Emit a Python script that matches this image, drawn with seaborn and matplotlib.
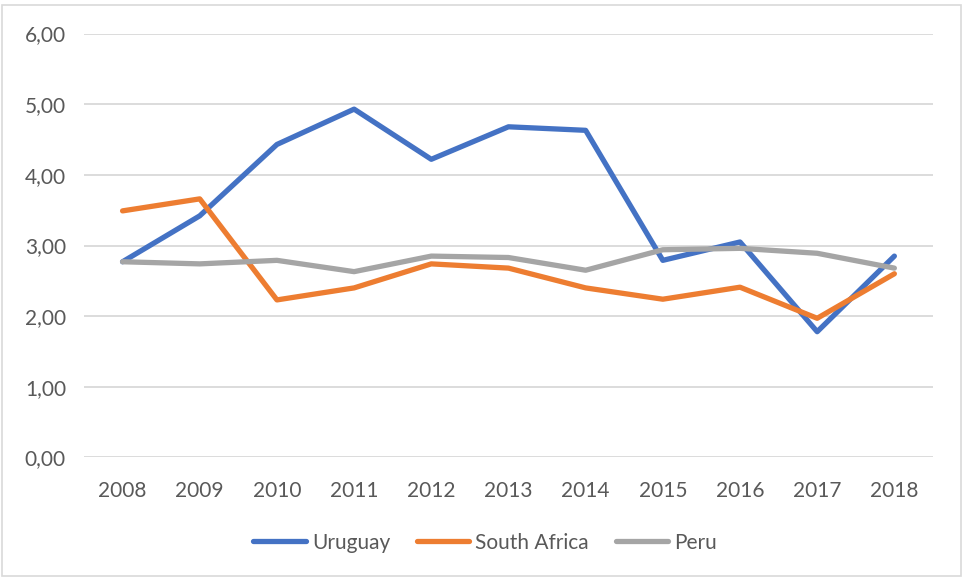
import pandas as pd
import seaborn as sns
import matplotlib
matplotlib.use('Agg')
import matplotlib.pyplot as plt
from matplotlib.patches import Rectangle
from matplotlib.ticker import FuncFormatter

# --- Data ---
years = [2008, 2009, 2010, 2011, 2012, 2013, 2014, 2015, 2016, 2017, 2018]
uruguay = [2.77, 3.42, 4.43, 4.93, 4.22, 4.68, 4.63, 2.79, 3.05, 1.78, 2.85]
south_africa = [3.49, 3.66, 2.23, 2.40, 2.74, 2.68, 2.40, 2.24, 2.41, 1.97, 2.60]
peru = [2.77, 2.74, 2.79, 2.63, 2.85, 2.83, 2.65, 2.94, 2.96, 2.89, 2.68]

series_names = ['Uruguay', 'South Africa', 'Peru']
colors = ['#4472C4', '#ED7D31', '#A5A5A5']

df = pd.DataFrame({
    'year': years * 3,
    'value': uruguay + south_africa + peru,
    'country': [n for n in series_names for _ in years],
})

sns.set_style('white')
plt.rcParams['font.family'] = ['Lato', 'DejaVu Sans']
TEXT = '#595959'
FS = 15

fig = plt.figure(figsize=(9.63, 5.78), dpi=100)
ax = fig.add_axes([0.0872, 0.2085, 0.8816, 0.7335])

sns.lineplot(data=df, x='year', y='value', hue='country', hue_order=series_names,
             palette=colors, linewidth=3.8, ax=ax, legend=False)

ax.set_xlim(2007.5, 2018.5)
ax.set_ylim(0, 6)
ax.set_xticks(years)
ax.set_yticks(range(0, 7))
ax.yaxis.set_major_formatter(FuncFormatter(lambda v, p: f'{v:.2f}'.replace('.', ',')))
ax.tick_params(axis='both', colors=TEXT, labelsize=FS, length=0)
ax.tick_params(axis='x', pad=17)
ax.tick_params(axis='y', pad=13)
ax.grid(axis='y', color='#D9D9D9', linewidth=1.3)
ax.set_axisbelow(True)
for s in ax.spines.values():
    s.set_visible(False)
ax.set_xlabel('')
ax.set_ylabel('')

# legend at the bottom
handles = [plt.Line2D([], [], color=c, linewidth=3.8) for c in colors]
leg = fig.legend(handles, series_names, loc='center', bbox_to_anchor=(0.504, 0.061),
                 ncol=3, frameon=False, fontsize=FS, handlelength=2.5,
                 handletextpad=0.3, columnspacing=1.3)
for t in leg.get_texts():
    t.set_color(TEXT)

# chart border
fig.patches.append(Rectangle((0.002, 0.003), 0.996, 0.988, transform=fig.transFigure,
                             fill=False, edgecolor='#D9D9D9', linewidth=1.2))

fig.savefig('out.png', dpi=100)
